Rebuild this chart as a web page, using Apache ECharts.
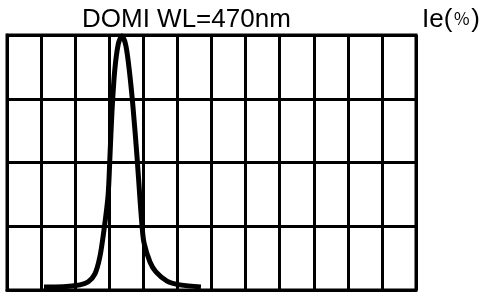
<!DOCTYPE html>
<html>
<head>
<meta charset="utf-8">
<script src="https://cdn.jsdelivr.net/npm/echarts@6/dist/echarts.min.js"></script>
<style>
html, body {margin: 0; padding: 0; background: #fff;}
#chart {width: 489px; height: 295px;}
</style>
</head>
<body>
<div id="chart"></div>
<script>
// wavelength (nm) and relative intensity (%)
var aWave = [421.7, 433.0, 442.8, 447.5, 451.6, 454.5, 456.9, 459.3, 460.4, 461.6, 463.2, 465.3, 467.5,
             469.7, 471.8, 473.9, 476.3, 478.0, 479.2, 480.4, 483.9, 487.4, 493.9, 501.5, 513.8];
var aIe = [1.2, 1.3, 2.0, 3.1, 6.3, 13.0, 23.5, 37.0, 52.2, 70.0, 86.0, 96.5, 99.6,
           96.0, 86.0, 72.0, 52.2, 36.0, 25.5, 18.5, 11.0, 7.1, 3.5, 2.0, 1.2];
var sTitle = 'DOMI WL=470nm';
var sUnit = 'Ie(';

function GetOption() {
    var aData = [];
    for (var i = 0; i < aWave.length; i++) {
        aData.push([aWave[i], aIe[i]]);
    }
    var jOption = {
        animation: false,
        title: [
            {
                text: sTitle,
                left: 77,
                top: 2,
                textStyle: {fontFamily: 'Liberation Sans', fontSize: 26, fontWeight: 'normal', color: '#000'}
            },
            {
                text: '{a|' + sUnit + '}{b|％}{a|)}',
                left: 417,
                top: 2,
                textStyle: {
                    fontWeight: 'normal',
                    rich: {
                        a: {fontFamily: 'Liberation Sans', fontSize: 26, fontWeight: 'normal', color: '#000'},
                        b: {fontFamily: 'Noto Sans CJK JP', fontSize: 17, fontWeight: 'normal', color: '#000', padding: [0, 1, 2, 1]}
                    }
                }
            }
        ],
        grid: {
            left: 7, right: 73, top: 35, bottom: 5,
            show: true, borderColor: '#000', borderWidth: 3
        },
        xAxis: {
            type: 'value', min: 400, max: 640, interval: 20,
            axisLabel: {show: false},
            axisTick: {show: false},
            axisLine: {show: true, lineStyle: {color: '#000', width: 3}},
            splitLine: {show: true, lineStyle: {color: '#000', width: 3}}
        },
        yAxis: {
            type: 'value', min: 0, max: 100, interval: 25,
            axisLabel: {show: false},
            axisTick: {show: false},
            axisLine: {show: true, lineStyle: {color: '#000', width: 3}},
            splitLine: {show: true, lineStyle: {color: '#000', width: 3}}
        },
        series: [
            {
                type: 'line',
                data: aData,
                smooth: 0.3,
                symbol: 'none',
                clip: false,
                lineStyle: {color: '#000', width: 5}
            }
        ]
    };
    return jOption;
}

var myChart = echarts.init(document.getElementById('chart'));
myChart.setOption(GetOption());
</script>
</body>
</html>
